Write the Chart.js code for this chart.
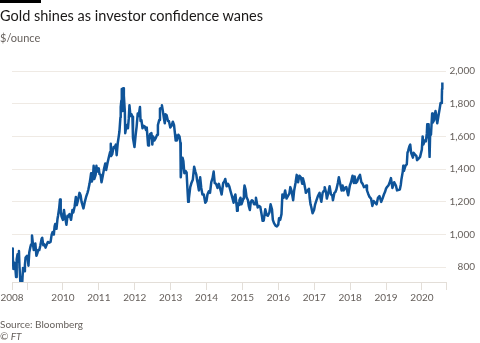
<!DOCTYPE html>
<html>
<head>
<meta charset="utf-8">
<script src="https://cdn.jsdelivr.net/npm/chart.js@4/dist/chart.umd.min.js"></script>
<style>
  html, body { margin: 0; padding: 0; background: #fff; }
  #wrap { position: relative; width: 480px; height: 343px; overflow: hidden; font-family: Lato, "Open Sans", sans-serif; }
  #bar { position: absolute; left: 0; top: 0; width: 41px; height: 3px; background: #000; }
  #title { position: absolute; left: 0; top: 9px; font-size: 14.5px; line-height: 14px; color: #1a1817; white-space: nowrap; }
  #sub { position: absolute; left: 0; top: 32px; font-size: 11px; line-height: 11px; color: #66605c; white-space: nowrap; }
  #src { position: absolute; left: 0; top: 319px; font-size: 10px; line-height: 10px; color: #66605c; white-space: nowrap; }
  #ft { position: absolute; left: 0; top: 331px; font-size: 10px; line-height: 10px; color: #66605c; font-style: italic; white-space: nowrap; }
  canvas { position: absolute; left: 0; top: 0; }
</style>
</head>
<body>
<div id="wrap">
  <canvas id="c" width="480" height="343"></canvas>
  <div id="bar"></div>
  <div id="title">Gold shines as investor confidence wanes</div>
  <div id="sub">$/ounce</div>
  <div id="src">Source: Bloomberg</div>
  <div id="ft">© FT</div>
</div>
<script>
// Gold price, $/ounce
const dates2008 = ["2008-08-01","2008-08-08","2008-08-15","2008-08-22","2008-09-02","2008-09-11","2008-09-17","2008-09-26","2008-10-03","2008-10-10","2008-10-16","2008-10-24","2008-10-31","2008-11-13","2008-11-21","2008-12-01","2008-12-10","2008-12-17","2008-12-31"];
const prices2008 = [915,865,790,830,805,740,850,880,835,900,800,715,730,712,795,775,815,860,870];

const dates2009 = ["2009-01-09","2009-01-15","2009-01-23","2009-02-02","2009-02-11","2009-02-20","2009-03-02","2009-03-10","2009-03-18","2009-03-26","2009-04-06","2009-04-15","2009-04-24","2009-05-05","2009-05-15","2009-05-29","2009-06-04","2009-06-15","2009-06-26","2009-07-08","2009-07-17","2009-07-31","2009-08-14","2009-08-28","2009-09-08","2009-09-17","2009-09-30","2009-10-08","2009-10-14","2009-10-27","2009-11-06","2009-11-12","2009-11-24","2009-12-02","2009-12-09","2009-12-18","2009-12-31"];
const prices2009 = [855,810,890,920,940,995,940,905,920,945,870,885,905,905,930,975,980,935,940,920,935,955,950,955,1000,1015,1000,1050,1065,1035,1095,1115,1165,1215,1140,1110,1090];

const dates2010 = ["2010-01-11","2010-01-21","2010-01-29","2010-02-05","2010-02-16","2010-02-26","2010-03-08","2010-03-24","2010-04-07","2010-04-16","2010-04-29","2010-05-12","2010-05-21","2010-06-03","2010-06-18","2010-06-29","2010-07-09","2010-07-28","2010-08-11","2010-08-24","2010-09-07","2010-09-16","2010-09-28","2010-10-07","2010-10-14","2010-10-22","2010-11-02","2010-11-09","2010-11-16","2010-11-29","2010-12-07","2010-12-15","2010-12-31"];
const prices2010 = [1150,1105,1085,1060,1115,1110,1125,1090,1150,1135,1170,1230,1180,1210,1255,1240,1200,1160,1200,1230,1255,1275,1310,1345,1375,1325,1355,1420,1340,1365,1420,1385,1405];

const dates2011 = ["2011-01-07","2011-01-18","2011-01-28","2011-02-10","2011-02-22","2011-03-07","2011-03-16","2011-03-31","2011-04-11","2011-04-25","2011-05-02","2011-05-05","2011-05-16","2011-05-31","2011-06-10","2011-06-22","2011-07-01","2011-07-12","2011-07-22","2011-07-29","2011-08-08","2011-08-11","2011-08-18","2011-08-22","2011-08-25","2011-08-30","2011-09-06","2011-09-12","2011-09-22","2011-09-26","2011-10-04","2011-10-14","2011-10-24","2011-11-01","2011-11-08","2011-11-18","2011-11-29","2011-12-08","2011-12-14","2011-12-29"];
const prices2011 = [1370,1365,1320,1360,1400,1435,1395,1440,1470,1505,1555,1480,1490,1535,1530,1550,1485,1560,1600,1630,1715,1780,1820,1890,1755,1800,1895,1850,1750,1620,1650,1670,1650,1710,1790,1725,1735,1720,1590,1535];

const dates2012 = ["2012-01-10","2012-01-20","2012-01-31","2012-02-10","2012-02-23","2012-02-29","2012-03-09","2012-03-20","2012-03-30","2012-04-12","2012-04-24","2012-05-02","2012-05-16","2012-05-25","2012-06-06","2012-06-19","2012-06-28","2012-07-06","2012-07-18","2012-08-02","2012-08-16","2012-08-24","2012-09-06","2012-09-14","2012-09-28","2012-10-04","2012-10-12","2012-10-23","2012-11-02","2012-11-09","2012-11-21","2012-12-04","2012-12-14","2012-12-28"];
const prices2012 = [1610,1660,1740,1725,1780,1695,1700,1650,1665,1660,1640,1655,1545,1575,1615,1620,1550,1600,1575,1590,1610,1670,1700,1770,1775,1790,1760,1715,1680,1735,1730,1695,1695,1655];

const dates2013 = ["2013-01-10","2013-01-23","2013-02-04","2013-02-15","2013-02-21","2013-03-05","2013-03-20","2013-04-01","2013-04-10","2013-04-12","2013-04-15","2013-04-23","2013-05-02","2013-05-10","2013-05-20","2013-05-31","2013-06-12","2013-06-20","2013-06-28","2013-07-05","2013-07-19","2013-07-31","2013-08-14","2013-08-28","2013-09-09","2013-09-19","2013-09-27","2013-10-04","2013-10-15","2013-10-28","2013-11-08","2013-11-20","2013-12-04","2013-12-19","2013-12-31"];
const prices2013 = [1665,1690,1670,1610,1575,1575,1610,1600,1560,1500,1350,1420,1470,1450,1375,1390,1380,1285,1200,1220,1290,1315,1335,1415,1385,1365,1330,1310,1270,1350,1285,1245,1245,1195,1205];

const dates2014 = ["2014-01-10","2014-01-24","2014-02-05","2014-02-18","2014-03-03","2014-03-14","2014-03-25","2014-04-08","2014-04-22","2014-05-06","2014-05-28","2014-06-03","2014-06-19","2014-07-01","2014-07-10","2014-07-24","2014-08-07","2014-08-20","2014-09-02","2014-09-16","2014-10-03","2014-10-10","2014-10-21","2014-11-05","2014-11-07","2014-11-14","2014-11-28","2014-12-01","2014-12-12","2014-12-22","2014-12-31"];
const prices2014 = [1245,1265,1255,1320,1345,1385,1315,1310,1285,1310,1260,1245,1315,1325,1340,1295,1310,1295,1265,1235,1195,1225,1245,1165,1145,1190,1180,1210,1225,1185,1200];

const dates2015 = ["2015-01-09","2015-01-16","2015-01-22","2015-02-02","2015-02-11","2015-02-26","2015-03-06","2015-03-17","2015-03-27","2015-04-07","2015-04-17","2015-04-29","2015-05-11","2015-05-18","2015-06-05","2015-06-17","2015-07-01","2015-07-20","2015-07-24","2015-08-05","2015-08-21","2015-09-04","2015-09-16","2015-10-02","2015-10-14","2015-10-28","2015-11-06","2015-11-18","2015-12-03","2015-12-17","2015-12-31"];
const prices2015 = [1220,1265,1300,1275,1230,1210,1175,1150,1200,1210,1205,1185,1185,1225,1165,1175,1170,1105,1085,1085,1155,1120,1115,1135,1185,1155,1090,1070,1055,1050,1060];

const dates2016 = ["2016-01-08","2016-01-20","2016-02-02","2016-02-11","2016-02-24","2016-03-10","2016-03-24","2016-04-07","2016-04-22","2016-05-02","2016-05-13","2016-05-31","2016-06-10","2016-06-24","2016-07-06","2016-07-20","2016-08-02","2016-08-17","2016-08-31","2016-09-07","2016-09-20","2016-10-04","2016-10-07","2016-10-20","2016-11-08","2016-11-15","2016-11-24","2016-12-01","2016-12-15","2016-12-30"];
const prices2016 = [1100,1090,1125,1245,1225,1270,1220,1235,1250,1290,1270,1210,1270,1315,1365,1320,1360,1350,1310,1345,1315,1270,1255,1265,1280,1225,1185,1170,1130,1150];

const dates2017 = ["2017-01-10","2017-01-24","2017-02-07","2017-02-24","2017-03-03","2017-03-14","2017-03-27","2017-04-11","2017-04-17","2017-05-02","2017-05-09","2017-05-24","2017-06-06","2017-06-20","2017-07-03","2017-07-10","2017-07-25","2017-08-04","2017-08-14","2017-08-29","2017-09-08","2017-09-20","2017-10-06","2017-10-16","2017-10-27","2017-11-09","2017-11-23","2017-12-12","2017-12-29"];
const prices2017 = [1185,1210,1235,1255,1230,1200,1255,1270,1290,1255,1220,1255,1295,1245,1240,1210,1255,1260,1275,1315,1350,1315,1270,1300,1270,1285,1290,1240,1300];

const dates2018 = ["2018-01-10","2018-01-25","2018-02-08","2018-02-16","2018-03-01","2018-03-14","2018-03-27","2018-04-11","2018-04-25","2018-05-08","2018-05-21","2018-06-05","2018-06-14","2018-06-21","2018-07-03","2018-07-17","2018-08-01","2018-08-15","2018-08-28","2018-09-11","2018-09-27","2018-10-11","2018-10-26","2018-11-13","2018-11-26","2018-12-10","2018-12-21","2018-12-31"];
const prices2018 = [1320,1360,1315,1355,1315,1325,1350,1365,1320,1310,1290,1295,1300,1270,1250,1230,1220,1175,1205,1195,1185,1225,1235,1200,1220,1245,1260,1280];

const dates2019 = ["2019-01-10","2019-01-25","2019-02-05","2019-02-20","2019-03-07","2019-03-25","2019-04-11","2019-04-23","2019-05-02","2019-05-21","2019-05-31","2019-06-07","2019-06-20","2019-06-25","2019-07-02","2019-07-17","2019-07-31","2019-08-07","2019-08-13","2019-08-26","2019-09-04","2019-09-13","2019-10-01","2019-10-08","2019-10-21","2019-11-06","2019-11-12","2019-11-29","2019-12-13","2019-12-31"];
const prices2019 = [1290,1300,1315,1345,1285,1320,1300,1270,1270,1275,1305,1340,1385,1420,1390,1420,1430,1500,1510,1540,1550,1500,1470,1500,1490,1480,1455,1465,1475,1520];

const dates2020 = ["2020-01-08","2020-01-15","2020-01-29","2020-02-10","2020-02-20","2020-02-24","2020-03-02","2020-03-09","2020-03-16","2020-03-19","2020-03-25","2020-04-02","2020-04-14","2020-04-21","2020-05-04","2020-05-18","2020-05-28","2020-06-05","2020-06-17","2020-06-30","2020-07-09","2020-07-17","2020-07-22","2020-07-24","2020-07-27"];
const prices2020 = [1600,1550,1575,1570,1620,1675,1595,1675,1515,1475,1630,1610,1740,1685,1700,1755,1720,1680,1725,1770,1805,1805,1845,1890,1930];

const xTickYears = [2009, 2010, 2011, 2012, 2013, 2014, 2015, 2016, 2017, 2018, 2019, 2020];
const yTickValues = [800, 1000, 1200, 1400, 1600, 1800, 2000];
const firstTickLabel = "2008";

const allDates = [].concat(dates2008, dates2009, dates2010, dates2011, dates2012, dates2013, dates2014, dates2015, dates2016, dates2017, dates2018, dates2019, dates2020);
const allPrices = [].concat(prices2008, prices2009, prices2010, prices2011, prices2012, prices2013, prices2014, prices2015, prices2016, prices2017, prices2018, prices2019, prices2020);

function decYear(s) {
  const [y, m, d] = s.split("-").map(Number);
  const start = Date.UTC(y, 0, 1), end = Date.UTC(y + 1, 0, 1);
  return y + (Date.UTC(y, m - 1, d) - start) / (end - start);
}
const points = allDates.map((d, i) => ({ x: decYear(d), y: allPrices[i] }));

const X_MIN = 2008.58, X_MAX = 2020.67;

new Chart(document.getElementById("c"), {
  type: "line",
  data: { datasets: [{ data: points, borderColor: "#0f5499", borderWidth: 2.5, pointRadius: 0, tension: 0, fill: false, borderJoinStyle: "round" }] },
  options: {
    responsive: false,
    animation: false,
    devicePixelRatio: 1,
    layout: { padding: { top: 71, left: 12, right: 5, bottom: 36 } },
    plugins: { legend: { display: false }, tooltip: { enabled: false } },
    scales: {
      x: {
        type: "linear",
        min: X_MIN, max: X_MAX,
        afterBuildTicks: (ax) => {
          ax.ticks = [{ value: X_MIN }].concat(xTickYears.map(v => ({ value: v })), [{ value: X_MAX }]);
        },
        afterFit: (ax) => { ax.height = 25; ax.paddingLeft = 0; ax.paddingRight = 0; },
        grid: { drawOnChartArea: false, drawTicks: true, tickLength: 8, color: "#e3ded8", lineWidth: 1 },
        border: { display: true, color: "#e3ded8", width: 1 },
        ticks: {
          autoSkip: false, maxRotation: 0, minRotation: 0, padding: 2,
          color: "#66605c", font: { family: "Lato", size: 10 },
          callback: (v) => {
            if (Math.abs(v - X_MIN) < 1e-6) return firstTickLabel;
            if (v === 2009 || Math.abs(v - X_MAX) < 1e-6) return "";
            return String(v);
          }
        }
      },
      y: {
        position: "right",
        min: 710, max: 2000,
        afterBuildTicks: (ax) => { ax.ticks = yTickValues.map(v => ({ value: v })); },
        afterFit: (ax) => { ax.width = 29; },
        grid: { drawTicks: false, color: "#efeae4", lineWidth: 1 },
        border: { display: false },
        ticks: {
          crossAlign: "far", padding: 3,
          color: "#66605c", font: { family: "Lato", size: 10 },
          callback: (v) => v.toLocaleString("en-US")
        }
      }
    }
  }
});
</script>
</body>
</html>
